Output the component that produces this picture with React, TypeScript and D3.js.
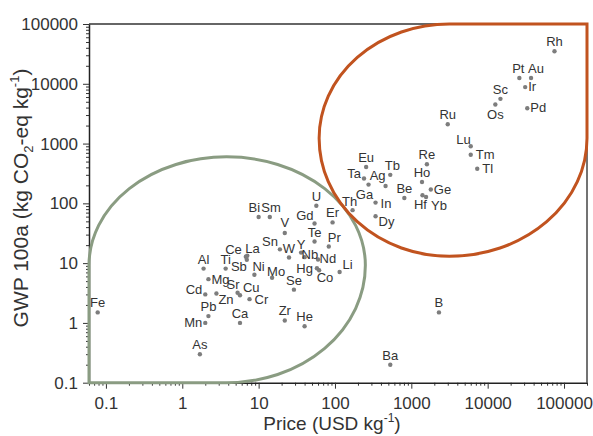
import { useRef, useEffect } from 'react'
import * as d3 from 'd3'

// element symbols, price (USD/kg) and GWP 100a (kg CO2-eq/kg)
const elements = ['Fe','Al','Mg','Cd','Zn','Pb','Mn','As','Ti','Ce','La','Sb','Ni','Sr','Cu','Cr','Ca','Mo','Se','Zr','He',
  'Bi','Sm','V','Sn','W','Y','Nb','Nd','Gd','U','Te','Er','Pr','Hg','Co','Li',
  'Eu','Ta','Ga','Ag','Tb','In','Dy','Th','Be','Re','Ho','Ge','Hf','Yb','Ru','Lu','Tm','Tl','Sc','Os','Pt','Au','Ir','Pd','Rh','B','Ba']
const price = [0.078,1.9,2.2,2.0,2.8,2.2,2.0,1.7,3.7,6.8,7.1,7.0,8.8,5.3,5.7,7.6,5.7,15,29,22,40,
  10,14,22,19,25,36,40,60,54,57,54,93,83,58,62,115,
  256,240,275,460,530,340,340,170,810,1600,1380,1800,1400,1560,3000,6000,6000,7300,14700,12600,26000,37000,31000,33000,75000,2300,530]
const gwp = [1.5,8.1,5.4,3.0,3.1,1.3,1.0,0.3,8.1,12.8,13.3,11.4,6.4,3.2,2.9,2.5,1.0,5.7,3.6,1.1,0.88,
  59,59,32,17,12.4,15,12.6,11.5,46,91,23,48,19,8.2,7.6,7.1,
  406,260,206,195,300,103,61,77,123,450,228,170,137,128,2100,900,650,380,5600,4500,12500,12500,8800,3900,35000,1.5,0.2]

const xMajor = [0.1,1,10,100,1000,10000,100000]
const yMajor = [0.1,1,10,100,1000,10000,100000]

// label placement: [dx, dy, anchor]
const labelPos: Record<string,[number,number,string]> = {
  Cd:[-3,0,'end'], Mn:[-3,4.5,'end'], Mg:[3,5,'start'], Zn:[2,10,'start'],
  Ce:[-4,-3,'end'], La:[-2,-3,'start'], Sb:[0,11,'end'], Ni:[-2,-4,'start'],
  Sr:[2,-4,'end'], Cu:[3,-3,'start'], Cr:[5,5,'start'], Mo:[-5,-2,'start'],
  Bi:[1.5,-5,'end'], Sm:[-8.5,-5,'start'], V:[0,-6,'middle'], Sn:[-2,-3,'end'],
  Y:[0,-4,'middle'], Nb:[-3,2,'start'], Nd:[1.5,3,'start'], Gd:[-1,-4,'end'],
  Pr:[-1,-4,'start'], Hg:[-4,5,'end'], Co:[-2.5,12,'start'], Li:[3,-3,'start'],
  Ta:[-3,-1,'end'], Ga:[-4,14,'middle'], Ag:[0,-6,'end'], Tb:[2,-5,'middle'],
  In:[5,5,'start'], Dy:[3,10,'start'], Th:[-3,-4,'middle'], Ge:[3,4,'start'],
  Hf:[-2,14,'middle'], Yb:[5,13,'start'], Lu:[0,-2,'end'], Tm:[5,4,'start'],
  Tl:[5,4,'start'], Os:[0,14,'middle'], Pt:[-1,-5,'middle'], Au:[5,-5,'middle'],
  Ir:[3,4,'start'], Pd:[3,4,'start'],
}

function App() {
  const ref = useRef<SVGSVGElement>(null)

  useEffect(() => {
    const svg = d3.select(ref.current)
    svg.selectAll('*').remove()
    const left = 89, right = 587, top = 24, bottom = 382.7
    const x = d3.scaleLog().domain([0.06, 200000]).range([left, right])
    const y = d3.scaleLog().domain([0.1, 100000]).range([bottom, top])
    const font = "Arial, 'Liberation Sans', sans-serif"
    const fmt = (d: any) => String(d)

    const minor = (dom: number[], majors: number[]) => {
      const out: number[] = []
      for (const m of majors.concat([majors[0] / 10])) {
        for (let k = 2; k <= 9; k++) {
          const v = m * k
          if (v >= dom[0] && v <= dom[1]) out.push(v)
        }
      }
      return out
    }

    svg.append('rect').attr('width', 593).attr('height', 436).attr('fill', '#fff')

    // frame
    svg.append('line').attr('x1', left).attr('x2', right).attr('y1', top).attr('y2', top)
      .attr('stroke', '#333').attr('stroke-width', 1.5)
    svg.append('line').attr('x1', right).attr('x2', right).attr('y1', top).attr('y2', bottom)
      .attr('stroke', '#444').attr('stroke-width', 1.5)

    // minor ticks
    svg.append('g').attr('transform', `translate(${left},0)`)
      .call(d3.axisLeft(y).tickValues(minor([0.1, 100000], yMajor)).tickSize(3).tickFormat(() => ''))
      .call(g => g.select('.domain').remove())
    svg.append('g').attr('transform', `translate(0,${bottom})`)
      .call(d3.axisBottom(x).tickValues(minor([0.06, 200000], xMajor)).tickSize(3).tickFormat(() => ''))
      .call(g => g.select('.domain').remove())

    const ya = svg.append('g').attr('transform', `translate(${left},0)`)
      .call(d3.axisLeft(y).tickValues(yMajor).tickSize(6).tickPadding(5).tickFormat(fmt).tickSizeOuter(0))
    ya.selectAll('text').style('font', `17px ${font}`).attr('fill', '#333')
    const xa = svg.append('g').attr('transform', `translate(0,${bottom})`)
      .call(d3.axisBottom(x).tickValues(xMajor).tickSize(6).tickPadding(8).tickFormat(fmt).tickSizeOuter(0))
    xa.selectAll('text').style('font', `17px ${font}`).attr('fill', '#333')
    svg.selectAll('.domain').attr('stroke', '#222').attr('stroke-width', 1.5)
    svg.selectAll('.tick line').attr('stroke', '#333')

    // green region
    const gcx = x(3.8), gcy = y(9.2), gtop = y(600), gright = x(250)
    const gPath = `M${left},${bottom} L${left},${gcy} ` +
      `A${gcx - left},${gcy - gtop} 0 0 1 ${gcx},${gtop} ` +
      `A${gright - gcx},${gcy - gtop} 0 0 1 ${gright},${gcy} ` +
      `A${gright - gcx},${bottom - gcy} 0 0 1 ${gcx},${bottom} Z`
    svg.append('path').attr('d', gPath).attr('fill', 'none').attr('stroke', '#8a9c82').attr('stroke-width', 3)

    // orange region
    const ocx = x(3150), ocy = y(1230), oleft = x(62), obot = y(13)
    const oPath = `M${right},${top} L${right},${ocy} ` +
      `A${right - ocx},${obot - ocy} 0 0 1 ${ocx},${obot} ` +
      `A${ocx - oleft},${obot - ocy} 0 0 1 ${oleft},${ocy} ` +
      `A${ocx - oleft},${ocy - top} 0 0 1 ${ocx},${top} Z`
    svg.append('path').attr('d', oPath).attr('fill', 'none').attr('stroke', '#c1531f').attr('stroke-width', 3)

    // points
    svg.append('g').selectAll('circle').data(elements).enter().append('circle')
      .attr('cx', (d, i) => x(price[i])).attr('cy', (d, i) => y(gwp[i]))
      .attr('r', 2.2).attr('fill', '#7d7d7d')

    svg.append('g').selectAll('text').data(elements).enter().append('text')
      .attr('x', (d, i) => x(price[i]) + (labelPos[d] ? labelPos[d][0] : 0))
      .attr('y', (d, i) => y(gwp[i]) + (labelPos[d] ? labelPos[d][1] : -5))
      .attr('text-anchor', d => labelPos[d] ? labelPos[d][2] : 'middle')
      .style('font', `13px ${font}`).attr('fill', '#333')
      .text(d => d)

    // axis titles
    const xt = svg.append('text').attr('x', 332).attr('y', 430).attr('text-anchor', 'middle')
      .style('font', `19px ${font}`).attr('fill', '#333')
    xt.append('tspan').text('Price (USD kg')
    xt.append('tspan').attr('dy', -8).style('font-size', '12px').text('-1')
    xt.append('tspan').attr('dy', 8).text(')')

    const yt = svg.append('text').attr('transform', 'translate(28,198) rotate(-90)').attr('text-anchor', 'middle')
      .style('font', `21px ${font}`).attr('fill', '#333')
    yt.append('tspan').text('GWP 100a (kg CO')
    yt.append('tspan').attr('dy', 5).style('font-size', '13px').text('2')
    yt.append('tspan').attr('dy', -5).text('-eq kg')
    yt.append('tspan').attr('dy', -9).style('font-size', '13px').text('-1')
    yt.append('tspan').attr('dy', 9).text(')')
  }, [])

  return (
    <svg ref={ref} width={593} height={436} style={{ position: 'absolute', left: 0, top: 0 }} />
  )
}

export default App
